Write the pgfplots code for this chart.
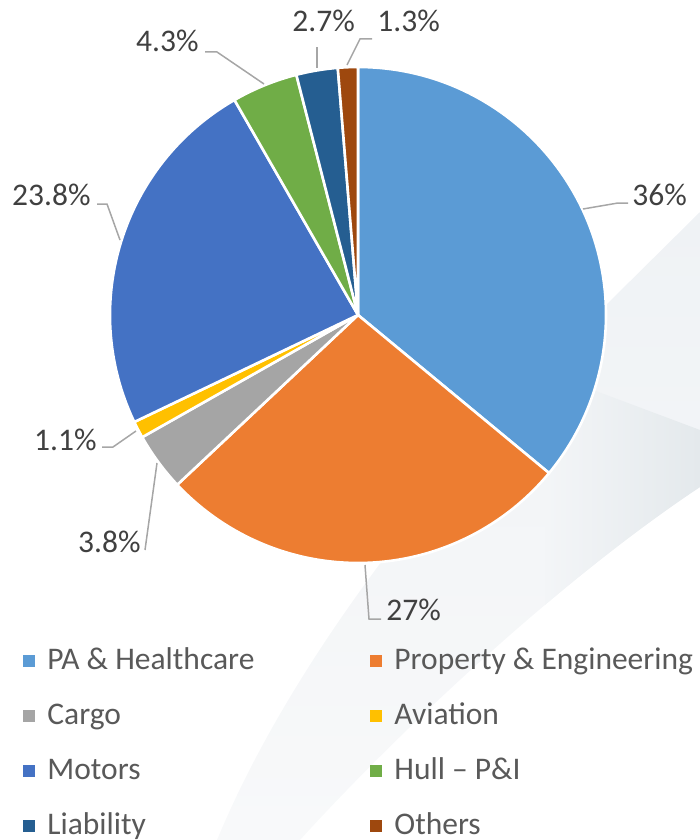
\documentclass[border=0pt]{standalone}
\usepackage{fontspec}
\setmainfont{Carlito}
\usepackage{pgfplots}
\usepackage{pgfplotstable}
\pgfplotsset{compat=1.18}

\definecolor{cPA}{HTML}{5B9BD5}
\definecolor{cPE}{HTML}{ED7D31}
\definecolor{cCargo}{HTML}{A5A5A5}
\definecolor{cAv}{HTML}{FFC000}
\definecolor{cMot}{HTML}{4472C4}
\definecolor{cHull}{HTML}{70AD47}
\definecolor{cLiab}{HTML}{255E91}
\definecolor{cOth}{HTML}{9E480E}
\definecolor{labtext}{HTML}{404040}
\definecolor{legtext}{HTML}{595959}
\definecolor{leader}{HTML}{A6A6A6}
\definecolor{bgTop}{HTML}{EFF2F5}
\definecolor{bgBot}{HTML}{F8F9FA}
\definecolor{bgDark}{HTML}{E4E9EC}

% share of premium, clockwise from 12 o'clock
\pgfplotstableread{
value col
36   cPA
27   cPE
3.8  cCargo
1.1  cAv
23.8 cMot
4.3  cHull
2.7  cLiab
1.3  cOth
}\piedata

\newcommand{\lab}{\fontsize{15.75}{18}\selectfont}
\newcommand{\swoosh}{(axis cs:700,212) -- (axis cs:608,303)
  .. controls (axis cs:470,440) and (axis cs:300,640) .. (axis cs:217,840)
  -- (axis cs:300,840)
  .. controls (axis cs:400,730) and (axis cs:560,580) .. (axis cs:700,487) -- cycle}

\begin{document}
\begin{tikzpicture}
\begin{axis}[
  name=ax,
  width=350pt, height=420pt, scale only axis,
  xmin=0, xmax=700, ymin=0, ymax=840, y dir=reverse,
  hide axis, clip=false,
  legend columns=2,
  legend cell align=left,
  legend image code/.code={\fill[#1, draw=none] (0pt,-3pt) rectangle (6pt,3pt);},
  legend style={at={(axis cs:17,643)}, anchor=north west, draw=none, fill=none,
    font=\lab, text=legtext,
    nodes={inner sep=0pt, text height=11pt, text depth=3pt},
    row sep=13.5pt,
    /tikz/every odd column/.style={column sep=6pt},
    /tikz/every even column/.style={column sep=58pt}},
]
% faint background swoosh
\shade[top color=bgTop, bottom color=bgBot] \swoosh;
\begin{scope}
\clip \swoosh;
\shade[left color=bgTop!55!bgBot, right color=bgDark]
  (axis cs:545,372) -- (axis cs:700,430) -- (axis cs:700,700) -- (axis cs:545,700) -- cycle;
\end{scope}

% pie slices
\pgfmathsetmacro\cum{0}
\pgfplotsforeachungrouped \i in {0,...,7}{
  \pgfplotstablegetelem{\i}{value}\of\piedata \let\v\pgfplotsretval
  \pgfplotstablegetelem{\i}{col}\of\piedata \let\slicecol\pgfplotsretval
  \pgfmathsetmacro\a{90-3.6*\cum}
  \pgfmathsetmacro\b{90-3.6*(\cum+\v)}
  \edef\cmd{\noexpand\fill[\slicecol, draw=white, line width=1.3pt, line join=round]
    (axis cs:358,315) -- ++(\a:124pt) arc[start angle=\a, end angle=\b, radius=124pt] -- cycle;}
  \cmd
  \pgfmathsetmacro\cum{\cum+\v}
}

% leader lines
\begin{scope}[leader, line width=0.75pt]
\draw (axis cs:583,209) -- (axis cs:618,203) -- (axis cs:628,203);
\draw (axis cs:365,565) -- (axis cs:369,619) -- (axis cs:381,619);
\draw (axis cs:157,463) -- (axis cs:145,550);
\draw (axis cs:136,431) -- (axis cs:113,447) -- (axis cs:102,447);
\draw (axis cs:120,240) -- (axis cs:107,204) -- (axis cs:97,204);
\draw (axis cs:264,84) -- (axis cs:217,52) -- (axis cs:205,52);
\draw (axis cs:317,68) -- (axis cs:317,47);
\draw (axis cs:347,65) -- (axis cs:360,39) -- (axis cs:372,39);
\end{scope}

% data labels
\begin{scope}[every node/.style={inner sep=0pt, font=\lab, text=labtext}]
\node[anchor=base west] at (axis cs:632,205) {36\%};
\node[anchor=base west] at (axis cs:386,620) {27\%};
\node[anchor=base east] at (axis cs:141,552) {3.8\%};
\node[anchor=base east] at (axis cs:97,450) {1.1\%};
\node[anchor=base east] at (axis cs:91,205) {23.8\%};
\node[anchor=base east] at (axis cs:199,52) {4.3\%};
\node[anchor=base west] at (axis cs:292,32) {2.7\%};
\node[anchor=base west] at (axis cs:377,32) {1.3\%};
\end{scope}

\addlegendimage{fill=cPA}   \addlegendentry{PA \& Healthcare}
\addlegendimage{fill=cPE}   \addlegendentry{Property \& Engineering}
\addlegendimage{fill=cCargo}\addlegendentry{Cargo}
\addlegendimage{fill=cAv}   \addlegendentry{Aviation}
\addlegendimage{fill=cMot}  \addlegendentry{Motors}
\addlegendimage{fill=cHull} \addlegendentry{Hull -- P\&I}
\addlegendimage{fill=cLiab} \addlegendentry{Liability}
\addlegendimage{fill=cOth}  \addlegendentry{Others}
\end{axis}
\pgfresetboundingbox
\path (ax.south west) rectangle (ax.north east);
\end{tikzpicture}
\end{document}
